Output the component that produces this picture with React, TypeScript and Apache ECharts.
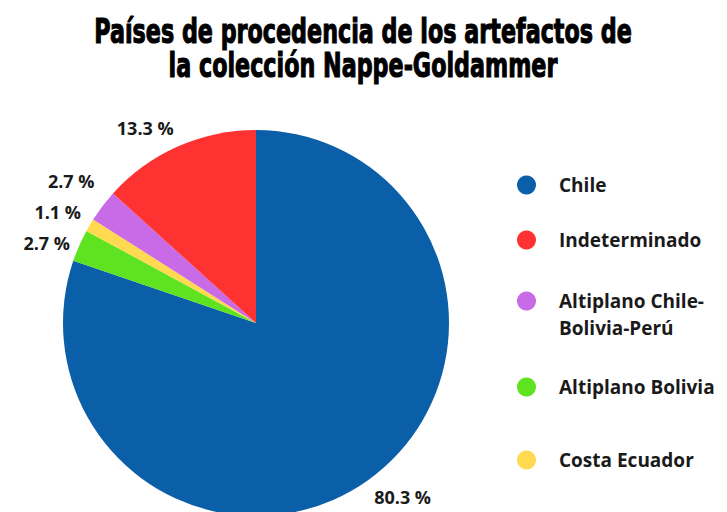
import React, { useEffect, useRef } from "react";
import * as echarts from "echarts";

const titleLines = ["Países de procedencia de los artefactos de", "la colección Nappe-Goldammer"];
const categories = ["Chile", "Altiplano Bolivia", "Costa Ecuador", "Altiplano Chile-Bolivia-Perú", "Indeterminado"];
const values = [80.3, 2.7, 1.1, 2.7, 13.3];
const colors = ["#0B5EA8", "#5FE21F", "#FFD950", "#C96AE6", "#FF3232"];
const legendOrder = ["Chile", "Indeterminado", "Altiplano Chile-Bolivia-Perú", "Altiplano Bolivia", "Costa Ecuador"];
const legendLabels: Record<string, string> = {
  "Altiplano Chile-Bolivia-Perú": "\nAltiplano Chile-\nBolivia-Perú",
};
const legendCenters = [185, 240, 301, 387, 460];

export default function App() {
  const ref = useRef<HTMLDivElement>(null);
  useEffect(() => {
    if (!ref.current) return;
    const chart = echarts.init(ref.current, null, { renderer: "svg" });
    const cx = 256;
    const cy = 323;
    const r = 193;
    const labelR = r + 10;
    const minGap = 31;
    const total = values.reduce((a, b) => a + b, 0);

    type Anchor = { x: number; y: number; align: string; va: string; side: number };
    const anchors: Anchor[] = [];
    let cum = 0;
    values.forEach((v) => {
      const a = ((cum + v / 2) / total) * Math.PI * 2;
      cum += v;
      const s = Math.sin(a);
      const c = Math.cos(a);
      anchors.push({
        x: cx + labelR * s,
        y: cy - labelR * c,
        align: s < 0 ? "right" : "left",
        va: c > 0 ? "bottom" : "top",
        side: s < 0 ? -1 : 1,
      });
    });
    for (let iter = 0; iter < 20; iter++) {
      const idx = anchors.map((_, i) => i).sort((p, q) => anchors[p].y - anchors[q].y);
      for (let k = 1; k < idx.length; k++) {
        const A = anchors[idx[k - 1]];
        const B = anchors[idx[k]];
        if (A.side !== B.side || A.va !== B.va) continue;
        const gap = B.y - A.y;
        if (gap < minGap) {
          const d = (minGap - gap) / 2;
          A.y -= d;
          B.y += d;
        }
      }
    }

    const textStyle = {
      fontFamily: "'Open Sans', sans-serif",
      fontWeight: "bold" as const,
      color: "#1a1a1a",
    };

    const legends = legendOrder.map((name, i) => {
      const multi = !!legendLabels[name];
      const lh = multi ? 27 : 20;
      return {
        show: true,
        data: [name],
        orient: "vertical" as const,
        left: 517,
        top: multi ? legendCenters[i] - 1.5 * lh : legendCenters[i] - 10,
        padding: 0,
        icon: "circle",
        itemWidth: 19,
        itemHeight: 19,
        selectedMode: false,
        formatter: (n: string) => legendLabels[n] || n,
        textStyle: {
          ...textStyle,
          fontSize: 19,
          lineHeight: lh,
          padding: [0, 0, 0, 18],
        },
      };
    });

    chart.setOption({
      animation: false,
      backgroundColor: "#ffffff",
      graphic: titleLines.map((t, i) => ({
        type: "text",
        x: 363,
        y: 31 + i * 34,
        scaleX: 0.655,
        originX: 0,
        style: {
          text: t,
          x: 0,
          y: 0,
          align: "center",
          verticalAlign: "middle",
          font: "bold 34px 'DejaVu Sans', sans-serif",
          fill: "#000000",
          stroke: "#000000",
          lineWidth: 1.2,
        },
      })),
      legend: legends,
      series: [
        {
          type: "pie",
          center: [cx, cy],
          radius: r,
          startAngle: 90,
          clockwise: true,
          data: categories.map((c, i) => ({ name: c, value: values[i], itemStyle: { color: colors[i] } })),
          label: {
            show: true,
            position: "outside",
            formatter: (p: any) => `${p.value} %`,
            ...textStyle,
            fontSize: 18,
          },
          labelLine: { show: false, length: 10, length2: 0 },
          labelLayout: (p: any) => {
            const an = anchors[p.dataIndex];
            return { x: an.x, y: an.y, align: an.align, verticalAlign: an.va };
          },
          emphasis: { disabled: true },
        },
      ],
    });
    return () => chart.dispose();
  }, []);
  return <div ref={ref} style={{ position: "fixed", left: 0, top: 0, width: 727, height: 512 }} />;
}
